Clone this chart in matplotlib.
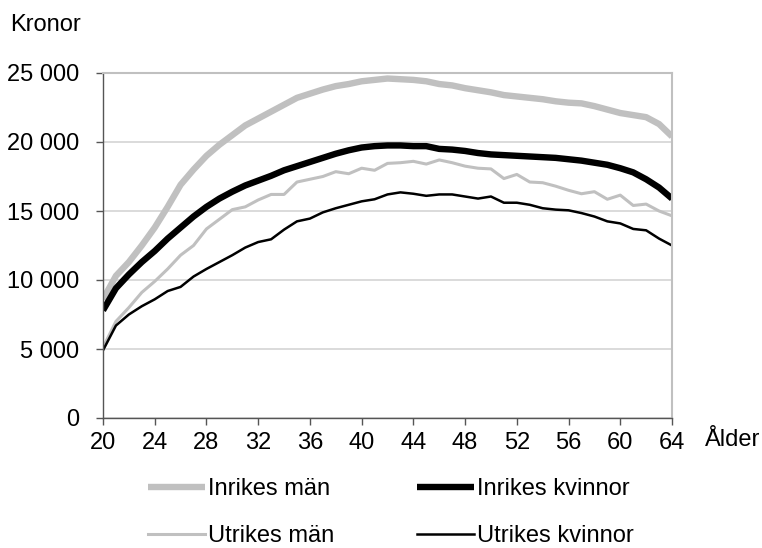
import matplotlib
matplotlib.use("Agg")
import matplotlib.pyplot as plt
from matplotlib.ticker import FuncFormatter

ages = list(range(20, 65))
inrikes_man = [8600, 10300, 11300, 12500, 13800, 15300, 16900, 18000, 19000, 19800,
               20500, 21200, 21700, 22200, 22700, 23200, 23500, 23800, 24050, 24200,
               24400, 24500, 24600, 24550, 24500, 24400, 24200, 24100, 23900, 23750,
               23600, 23400, 23300, 23200, 23100, 22950, 22850, 22800, 22600, 22350,
               22100, 21950, 21800, 21300, 20400]
inrikes_kvinnor = [7800, 9400, 10400, 11300, 12100, 13000, 13800, 14600, 15300, 15900,
                   16400, 16850, 17200, 17550, 17950, 18250, 18550, 18850, 19150, 19400,
                   19600, 19700, 19750, 19750, 19700, 19700, 19500, 19450, 19350, 19200,
                   19100, 19050, 19000, 18950, 18900, 18850, 18750, 18650, 18500, 18350,
                   18100, 17800, 17300, 16700, 15900]
utrikes_man = [5100, 7000, 8000, 9100, 9900, 10800, 11800, 12500, 13700, 14400,
               15100, 15300, 15800, 16200, 16200, 17100, 17300, 17500, 17850, 17700,
               18100, 17950, 18450, 18500, 18600, 18400, 18700, 18500, 18250, 18100,
               18050, 17350, 17650, 17100, 17050, 16800, 16500, 16250, 16400, 15850,
               16150, 15400, 15500, 15000, 14650]
utrikes_kvinnor = [4900, 6700, 7500, 8100, 8600, 9200, 9500, 10250, 10800, 11300,
                   11800, 12350, 12750, 12950, 13650, 14250, 14450, 14900, 15200, 15450,
                   15700, 15850, 16200, 16350, 16250, 16100, 16200, 16200, 16050, 15900,
                   16050, 15600, 15600, 15450, 15200, 15100, 15050, 14850, 14600, 14250,
                   14100, 13700, 13600, 13000, 12500]
series_labels = ["Inrikes män", "Inrikes kvinnor", "Utrikes män", "Utrikes kvinnor"]
x_ticks = list(range(20, 65, 4))
y_ticks = [0, 5000, 10000, 15000, 20000, 25000]

plt.rcParams['font.family'] = ['Liberation Sans', 'DejaVu Sans']
FS = 17

fig = plt.figure(figsize=(7.62, 5.48), dpi=100)
ax = fig.add_axes([103/762, 1-418/548, (672-103)/762, (418-73)/548])

grey = "#C0C0C0"
l1, = ax.plot(ages, inrikes_man, color=grey, lw=4.6, label=series_labels[0], solid_capstyle='butt')
l2, = ax.plot(ages, inrikes_kvinnor, color="black", lw=4.6, label=series_labels[1], solid_capstyle='butt')
l3, = ax.plot(ages, utrikes_man, color=grey, lw=2.2, label=series_labels[2])
l4, = ax.plot(ages, utrikes_kvinnor, color="black", lw=1.8, label=series_labels[3])

ax.set_xlim(20, 64)
ax.set_ylim(0, 25000)
ax.set_xticks(x_ticks)
ax.set_yticks(y_ticks)
ax.yaxis.set_major_formatter(FuncFormatter(lambda v, p: f"{int(v):,}".replace(",", " ")))
ax.grid(axis='y', color="#D4D4D4", lw=1.2)
ax.set_axisbelow(True)
for s in ['top', 'right']:
    ax.spines[s].set_color(grey)
    ax.spines[s].set_linewidth(1.5)
for s in ['left', 'bottom']:
    ax.spines[s].set_color("#555555")
    ax.spines[s].set_linewidth(1.0)
ax.tick_params(axis='both', direction='out', length=5, width=1, color="#555555", labelsize=FS)
ax.tick_params(axis='y', pad=12)
ax.tick_params(axis='x', pad=5)

fig.text(10/762, 1-25/548, "Kronor", fontsize=FS, ha='left', va='center')
fig.text(705/762, 1-440/548, "Ålder", fontsize=FS, ha='left', va='center')

# row-major order: column fill -> [IM, UM] in col 1, [IK, UK] in col 2
handles = [l1, l3, l2, l4]
labels = [h.get_label() for h in handles]
fig.legend(handles, labels, ncol=2, loc='upper left', bbox_to_anchor=(148/762, 1-478/548),
           frameon=False, fontsize=FS, handlelength=2.4, handletextpad=0.15,
           columnspacing=3.5, labelspacing=1.05, borderaxespad=0, borderpad=0)

fig.savefig("out.png", dpi=100)
